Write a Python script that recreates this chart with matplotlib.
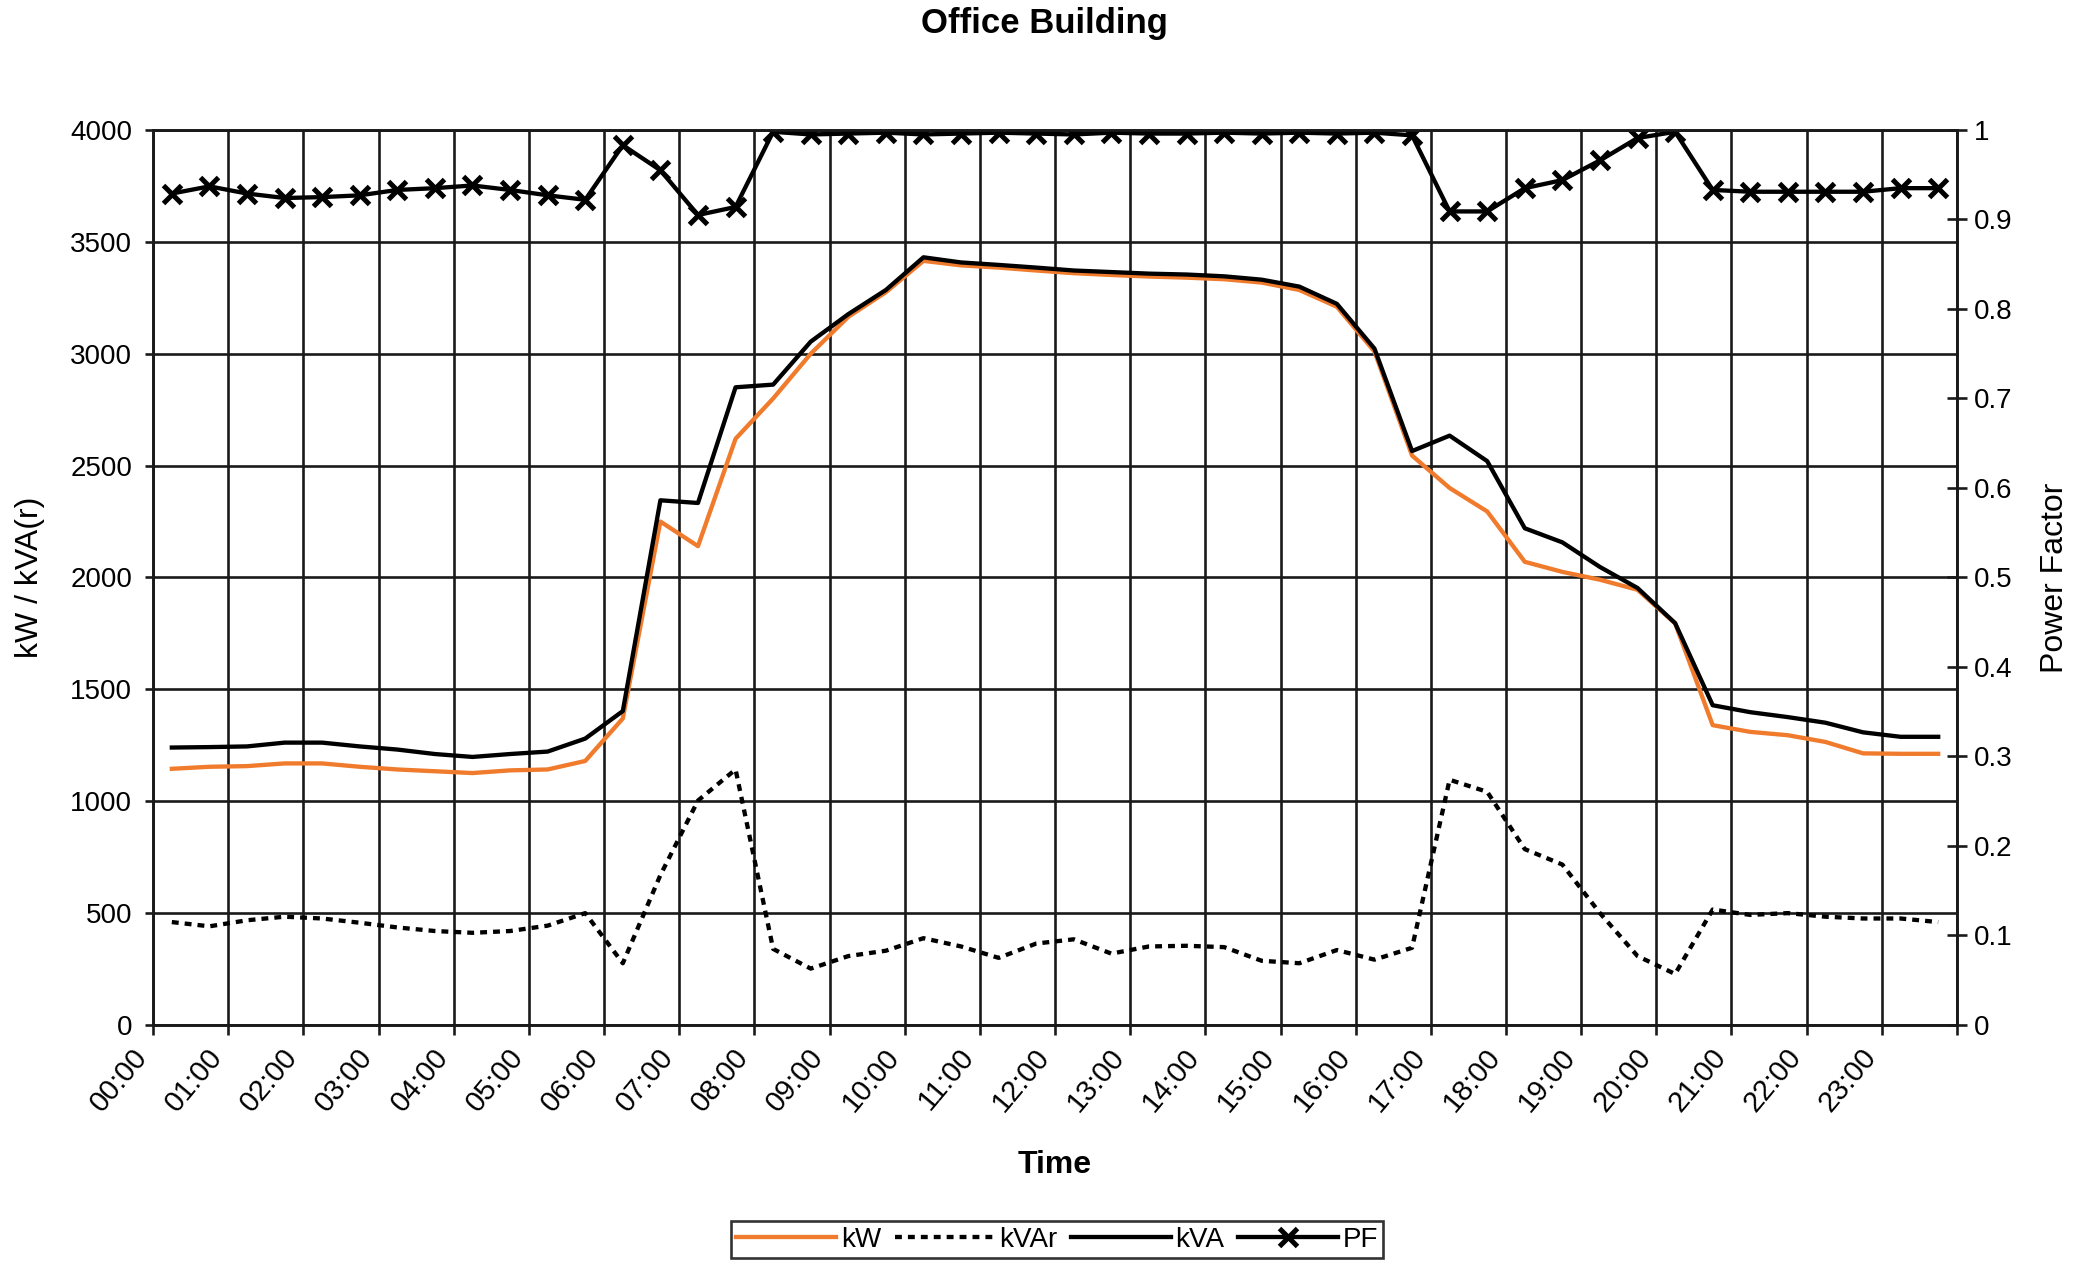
import numpy as np
import matplotlib
matplotlib.use('Agg')
import matplotlib.pyplot as plt
from matplotlib.ticker import FixedLocator, FixedFormatter

plt.rcParams['font.family'] = ['Liberation Sans', 'DejaVu Sans']

# half-hourly readings, 48 per day
hour_labels = ['%02d:00' % h for h in range(24)]

kW = [1145, 1154, 1157, 1169, 1169, 1154, 1142, 1134, 1126, 1138, 1142, 1180,
      1370, 2250, 2140, 2620, 2800, 3000, 3165, 3275, 3415, 3395, 3385, 3372,
      3360, 3352, 3345, 3340, 3333, 3318, 3285, 3210, 3010, 2545, 2400, 2295,
      2070, 2025, 1990, 1945, 1795, 1340, 1310, 1295, 1265, 1214, 1212, 1212]

kVAr = [460, 441, 468, 484, 476, 457, 436, 420, 412, 420, 444, 500,
        276, 670, 1003, 1142, 340, 252, 308, 332, 388, 351, 300, 364,
        383, 319, 351, 354, 348, 287, 276, 335, 292, 345, 1096, 1042,
        786, 717, 500, 308, 228, 516, 492, 500, 484, 476, 476, 460]

kVA = [1240, 1242, 1245, 1262, 1262, 1245, 1231, 1211, 1198, 1211, 1222, 1280,
       1403, 2345, 2333, 2850, 2862, 3054, 3177, 3285, 3431, 3408, 3397, 3385,
       3372, 3365, 3358, 3354, 3346, 3331, 3300, 3223, 3023, 2565, 2634, 2520,
       2220, 2157, 2047, 1953, 1796, 1429, 1398, 1376, 1351, 1308, 1288, 1288]

PF = [0.929, 0.937, 0.929, 0.924, 0.925, 0.927, 0.933, 0.935, 0.938, 0.933, 0.927, 0.922,
      0.983, 0.955, 0.905, 0.914, 0.998, 0.995, 0.996, 0.997, 0.995, 0.996, 0.997, 0.996,
      0.995, 0.997, 0.996, 0.996, 0.997, 0.996, 0.997, 0.996, 0.997, 0.994, 0.909, 0.909,
      0.935, 0.944, 0.966, 0.991, 0.998, 0.933, 0.931, 0.931, 0.931, 0.931, 0.935, 0.935]

x = np.arange(len(kW))
orange = '#f07b2c'
grid_col = '#1a1a1a'
fs = 20

fig = plt.figure(figsize=(20.85, 12.62), dpi=100)
ax = fig.add_axes([0.0734, 0.1878, 0.8652, 0.7092])
pf_ax = ax.twinx()

l1, = ax.plot(x, kW, color=orange, lw=3.1, label='kW', zorder=3)
l2, = ax.plot(x, kVAr, color='black', lw=3.1, ls=(0, (1.6, 1.4)), label='kVAr', zorder=3)
l3, = ax.plot(x, kVA, color='black', lw=3.1, label='kVA', zorder=4)
l4, = pf_ax.plot(x, PF, color='black', lw=3.1, marker='x', ms=13, mew=3.6, label='PF')

ax.set_xlim(-0.5, len(kW) - 0.5)
ax.set_ylim(0, 4000)
pf_ax.set_ylim(0, 1)

# hour boundaries every 2 readings
bounds = np.arange(-0.5, len(kW), 2)
ax.xaxis.set_major_locator(FixedLocator(bounds))
ax.xaxis.set_major_formatter(FixedFormatter(hour_labels + ['']))
ax.set_yticks(np.arange(0, 4001, 500))
pf_ax.set_yticks(np.arange(0, 1.01, 0.1))
pf_ax.set_yticklabels(['0'] + ['%.1f' % v for v in np.arange(0.1, 0.95, 0.1)] + ['1'])

ax.grid(True, color=grid_col, lw=1.9)
for sp in list(ax.spines.values()) + list(pf_ax.spines.values()):
    sp.set_color(grid_col)
    sp.set_linewidth(1.9)

ax.tick_params(axis='x', direction='out', length=7, width=1.9, color=grid_col,
               labelsize=21, pad=6)
ax.tick_params(axis='y', direction='out', length=6, width=1.9, color=grid_col,
               labelsize=fs, pad=9)
pf_ax.tick_params(axis='y', direction='inout', length=14, width=1.9, color=grid_col,
                  labelsize=fs, pad=5)
for lab in ax.get_xticklabels():
    lab.set_rotation(50)
    lab.set_ha('right')
    lab.set_va('top')

ax.set_xlabel('Time', fontsize=23, fontweight='bold', labelpad=24)
ax.set_ylabel('kW / kVA(r)', fontsize=23, labelpad=18)
pf_ax.set_ylabel('Power Factor', fontsize=23, labelpad=20)
fig.text(0.501, 0.981, 'Office Building', ha='center', va='center',
         fontsize=25, fontweight='bold')

leg = fig.legend(handles=[l1, l2, l3, l4], loc='center', bbox_to_anchor=(0.507, 0.0175),
                 ncol=4, fontsize=fs, frameon=True, fancybox=False, handlelength=3.6,
                 handletextpad=0.15, columnspacing=0.5, borderpad=0.2, numpoints=1)
leg.get_frame().set_edgecolor('black')
leg.get_frame().set_linewidth(1.9)

fig.savefig('out.png', dpi=100)
